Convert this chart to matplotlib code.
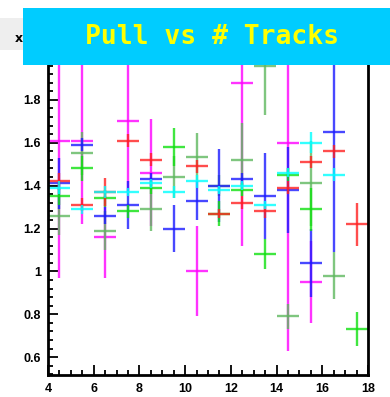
import matplotlib

matplotlib.use('Agg')
import numpy as np
import matplotlib.pyplot as plt
from matplotlib.patches import Rectangle
from matplotlib.ticker import FixedLocator, MultipleLocator

nan = np.nan

# bin centres (number of tracks)
ntrk = [4.5, 5.5, 6.5, 7.5, 8.5, 9.5, 10.5, 11.5, 12.5, 13.5, 14.5, 15.5, 16.5, 17.5]

pull_red = [1.42, 1.31, 1.37, 1.61, 1.52, nan, 1.49, 1.27, 1.32, 1.28, 1.39, 1.51, 1.56, 1.22]
err_red = [0.04, 0.03, 0.065, 0.03, 0.03, nan, 0.03, 0.02, 0.03, 0.03, 0.03, 0.03, 0.03, 0.10]

pull_green = [1.35, 1.48, 1.34, 1.28, 1.39, 1.58, nan, 1.27, 1.38, 1.08, 1.45, 1.29, nan, 0.73]
err_green = [0.04, 0.06, 0.04, 0.03, 0.03, 0.09, nan, 0.06, 0.03, 0.07, 0.03, 0.10, nan, 0.08]

pull_dkgreen = [1.26, 1.55, 1.19, nan, 1.29, 1.44, 1.535, 1.40, 1.52, 1.96, 0.79, 1.41, 0.98, nan]
err_dkgreen = [0.09, 0.10, 0.09, nan, 0.10, 0.10, 0.11, 0.05, 0.17, 0.23, 0.06, 0.20, 0.11, nan]

pull_blue = [1.41, 1.59, 1.26, 1.31, 1.43, 1.20, 1.33, 1.40, 1.43, 1.35, 1.38, 1.04, 1.65, nan]
err_blue = [0.12, 0.03, 0.04, 0.11, 0.03, 0.11, 0.09, 0.17, 0.03, 0.20, 0.20, 0.16, 0.56, nan]

pull_magenta = [1.61, 1.61, 1.16, 1.70, 1.46, nan, 1.00, nan, 1.88, nan, 1.60, 0.95, nan, nan]
err_magenta = [0.64, 0.39, 0.19, 0.33, 0.25, nan, 0.21, nan, 0.76, nan, 0.97, 0.19, nan, nan]

pull_cyan = [1.39, 1.29, 1.37, 1.37, 1.41, 1.37, 1.42, 1.38, 1.40, 1.31, 1.46, 1.60, 1.45, nan]
err_cyan = [0.03, 0.02, 0.03, 0.02, 0.02, 0.03, 0.03, 0.02, 0.02, 0.02, 0.02, 0.05, 0.03, nan]

yticks = [0.6, 0.8, 1.0, 1.2, 1.4, 1.6, 1.8]
ylabels = ['0.6', '0.8', '1', '1.2', '1.4', '1.6', '1.8']
xticks = [4, 6, 8, 10, 12, 14, 16, 18]

series = [
    (pull_magenta, err_magenta, '#ff00ff'),
    (pull_dkgreen, err_dkgreen, '#5fb85f'),
    (pull_blue, err_blue, '#1a1aff'),
    (pull_green, err_green, '#10e010'),
    (pull_red, err_red, '#ff2020'),
    (pull_cyan, err_cyan, '#00ffff'),
]

fig = plt.figure(figsize=(3.9, 3.97), dpi=100)
ax = fig.add_axes([48 / 390, 22 / 397, 320 / 390, 335 / 397])

for y, e, col in series:
    ax.errorbar(ntrk, y, yerr=e, xerr=0.48, fmt='none', ecolor=col,
                elinewidth=1.7, capsize=0, alpha=0.8)

ax.set_xlim(4, 18)
ax.set_ylim(0.517, 2.079)
ax.xaxis.set_major_locator(FixedLocator(xticks))
ax.xaxis.set_minor_locator(MultipleLocator(0.5))
ax.yaxis.set_major_locator(FixedLocator(yticks))
ax.yaxis.set_minor_locator(MultipleLocator(0.04))
ax.set_yticklabels(ylabels)
ax.set_xticklabels([str(t) for t in xticks])

ax.tick_params(which='both', direction='in', top=False, right=False, width=1.3, colors='black')
ax.tick_params(which='major', length=7, pad=5)
ax.tick_params(axis='x', which='major', pad=6)
ax.tick_params(which='minor', length=3.5)
for lab in ax.get_xticklabels() + ax.get_yticklabels():
    lab.set_fontfamily('Liberation Sans')
    lab.set_fontweight('bold')
    lab.set_fontsize(9)
for sp in ax.spines.values():
    sp.set_linewidth(2)
    sp.set_color('black')

# stats box peeking out on the left
fig.patches.append(Rectangle((0, 1 - 50 / 397), 24 / 390, 32 / 397,
                             transform=fig.transFigure, facecolor='#eeeeee',
                             edgecolor='none', zorder=4))
fig.text(19 / 390, 1 - 39 / 397, 'x', fontsize=9, fontweight='bold',
         ha='center', va='center', zorder=5)

# title banner
fig.patches.append(Rectangle((23 / 390, 1 - 65 / 397), 1 - 23 / 390, 57 / 397,
                             transform=fig.transFigure, facecolor='#00ccff',
                             edgecolor='none', zorder=6))
fig.text(212 / 390, 1 - 37 / 397, 'Pull vs # Tracks', color='#ffff00',
         fontfamily='DejaVu Sans Mono', fontweight='bold', fontsize=19,
         ha='center', va='center', zorder=7)

plt.savefig('out.png', dpi=100)
